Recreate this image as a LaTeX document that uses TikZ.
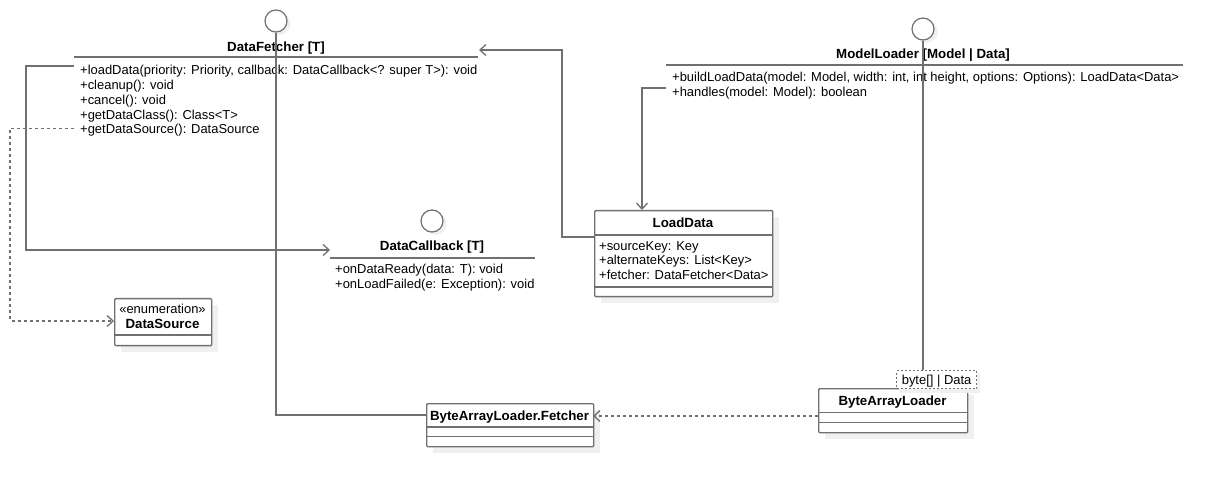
\documentclass[tikz,border=0pt]{standalone}
\usepackage{fontspec}
\setmainfont{Liberation Sans}
\usetikzlibrary{arrows.meta,calc}
\definecolor{lc}{RGB}{112,112,112}
\definecolor{sh}{RGB}{240,240,240}
\begin{document}
\begin{tikzpicture}[x=1pt,y=-1pt,
  ln/.style={draw=lc,line width=1.3pt},
  txt/.style={inner sep=0,anchor=west,font=\fontsize{12.95}{14}\selectfont,text height=11.5,text depth=1},
  ttl/.style={inner sep=0,font=\bfseries\fontsize{13.3}{14}\selectfont,text height=11.5,text depth=1},
  arr/.style={ln,-{Straight Barb[length=6pt,width=11pt]}},
  dep/.style={arr,dash pattern=on 3pt off 3pt},
  shd/.style={fill=sh,draw=none},
  box/.style={draw=lc,line width=1.4pt,fill=white,rounded corners=1pt,inner sep=0,anchor=north west},
  lolly/.style={circle,draw=lc,line width=1.2pt,fill=white,minimum size=22pt,inner sep=0},
  lshd/.style={circle,fill=sh,minimum size=22pt,inner sep=0},
]
\useasboundingbox (0,0) rectangle (1221,486);
\fill[white] (0,0) rectangle (1221,486);

% ---------- DataFetcher interface ----------
\node[lshd] at (279.5,24) {};
\node[lolly] (dfc) at (276,21) {};
\node[ttl] (dft) at (276,46) {DataFetcher [T]};
\draw[ln] (74,57) -- (478,57);
\node[txt] (dfm1) at (80,69) {+loadData(priority: Priority, callback: DataCallback<? super T>): void};
\node[txt] (dfm2) at (80,84) {+cleanup(): void};
\node[txt] (dfm3) at (80,99) {+cancel(): void};
\node[txt] (dfm4) at (80,114) {+getDataClass(): Class<T>};
\node[txt] (dfm5) at (80,128.5) {+getDataSource(): DataSource};
\coordinate (dfa) at (74,66);
\coordinate (dfb) at (74,128.5);
\coordinate (dfin) at (479,50);

% ---------- ModelLoader interface ----------
\node[lshd] at (926.5,32) {};
\node[lolly] (mlc) at (923,29) {};
\node[ttl] (mlt) at (923,53) {ModelLoader [Model | Data]};
\draw[ln] (666,65) -- (1183,65);
\node[txt] (mlm1) at (672,76.5) {+buildLoadData(model: Model, width: int, int height, options: Options): LoadData<Data>};
\node[txt] (mlm2) at (672,91) {+handles(model: Model): boolean};
\coordinate (mla) at (666,88);

% ---------- DataCallback interface ----------
\node[lshd] at (435.5,224) {};
\node[lolly] (dcc) at (432,221) {};
\node[ttl] (dct) at (432,245) {DataCallback [T]};
\draw[ln] (330,258) -- (535,258);
\node[txt] (dcm1) at (335,268.5) {+onDataReady(data: T): void};
\node[txt] (dcm2) at (335,283) {+onLoadFailed(e: Exception): void};
\coordinate (dcin) at (330,250);

% ---------- LoadData ----------
\fill[shd] (601,217) rectangle (779,303);
\node[box,minimum width=178pt,minimum height=86pt] (ld) at (594,210) {};
\node[ttl] at (683,222) {LoadData};
\draw[ln] (594,235) -- (772,235);
\draw[ln] (594,287) -- (772,287);
\node[txt] at (599,245) {+sourceKey: Key};
\node[txt] at (599,259.5) {+alternateKeys: List<Key>};
\node[txt] at (599,274) {+fetcher: DataFetcher<Data>};
\coordinate (lda) at (594,237);
\coordinate (ldin) at (642,210);

% ---------- DataSource ----------
\fill[shd] (121,305) rectangle (218,352);
\node[box,minimum width=97pt,minimum height=47pt] (ds) at (114,298) {};
\node[inner sep=0,font=\fontsize{12.95}{14}\selectfont,text height=11.5,text depth=1] at (162.5,308) {«enumeration»};
\node[ttl] at (162.5,323) {DataSource};
\draw[ln] (114,335) -- (211,335);
\coordinate (dsin) at (114,321);

% ---------- ByteArrayLoader.Fetcher ----------
\fill[shd] (433,410) rectangle (600,453);
\node[box,minimum width=167pt,minimum height=43pt] (fet) at (426,403) {};
\node[ttl] at (509.5,415) {ByteArrayLoader.Fetcher};
\draw[ln] (426,427) -- (593,427);
\draw[ln] (426,436.5) -- (593,436.5);
\coordinate (fetin) at (426,415);
\coordinate (fetout) at (593,416);

% ---------- ByteArrayLoader ----------
\fill[shd] (825,395) rectangle (974,439);
\node[box,minimum width=149pt,minimum height=44pt] (bal) at (818,388) {};
\node[ttl] at (892.5,400) {ByteArrayLoader};
\draw[ln] (818,412.5) -- (967,412.5);
\draw[ln] (818,422.5) -- (967,422.5);
\fill[shd] (899,373) rectangle (980,393);
\node[draw=lc,line width=1.2pt,dash pattern=on 2pt off 2pt,fill=white,inner sep=0,anchor=north west,minimum width=80pt,minimum height=18pt,text height=10.5,text depth=0.5,font=\fontsize{12.95}{14}\selectfont] (tpl) at (896,370) {byte[] | Data};
\coordinate (tplin) at (923,370);
\coordinate (bala) at (818,416);

% ---------- connectors ----------
\draw[ln] (dfc.south) |- (fetin);
\draw[ln] (mlc.south) -- (tplin);
\draw[arr] (dfa) -- ++(-48,0) |- (dcin);
\draw[dep] (dfb) -- ++(-64,0) |- (dsin);
\draw[arr] (lda) -- ++(-32,0) |- (dfin);
\draw[arr] (mla) -| (ldin);
\draw[dep] (bala) -- (fetout);
\end{tikzpicture}
\end{document}
